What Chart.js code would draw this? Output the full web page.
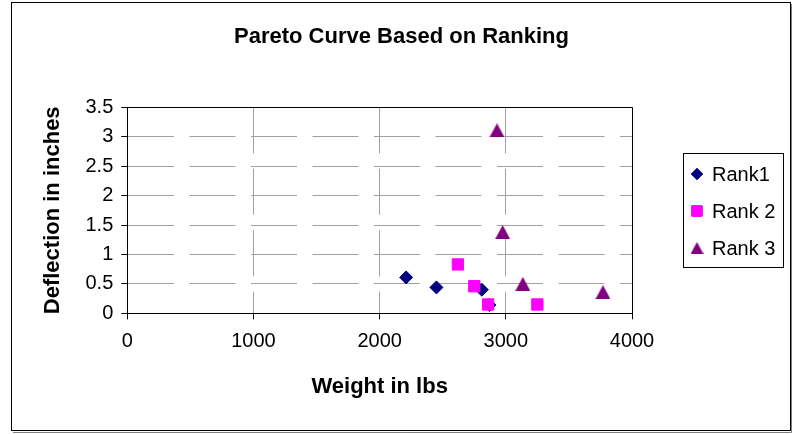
<!DOCTYPE html>
<html>
<head>
<meta charset="utf-8">
<script src="https://cdn.jsdelivr.net/npm/chart.js@4"></script>
<style>
  html, body { margin: 0; padding: 0; background: #fff; }
  canvas { display: block; }
</style>
</head>
<body>
<canvas id="chart" width="793" height="434"></canvas>
<script>
// ---- data ----
const chartTitle = 'Pareto Curve Based on Ranking';
const xTitle = 'Weight in lbs';
const yTitle = 'Deflection in inches';
const seriesNames = ['Rank1', 'Rank 2', 'Rank 3'];

const rank1Weight = [2210, 2450, 2810, 2870];
const rank1Deflection = [0.61, 0.44, 0.40, 0.14];

const rank2Weight = [2620, 2750, 2860, 3250];
const rank2Deflection = [0.83, 0.46, 0.15, 0.15];

const rank3Weight = [2930, 2975, 3135, 3770];
const rank3Deflection = [3.11, 1.38, 0.50, 0.36];

const xTickValues = [0, 1000, 2000, 3000, 4000];
const yTickValues = [0, 0.5, 1, 1.5, 2, 2.5, 3, 3.5];

// ---- markers ----
function makeTriangle(w, h, color) {
  const c = document.createElement('canvas');
  c.width = w; c.height = h;
  const g = c.getContext('2d');
  g.fillStyle = color;
  g.beginPath();
  g.moveTo(0, h);
  g.lineTo(w / 2, 0);
  g.lineTo(w, h);
  g.closePath();
  g.fill();
  return c;
}
const triangleMarker = makeTriangle(15, 14, '#800080');
const triangleLegend = makeTriangle(13, 12, '#800080');

const toPoints = (xs, ys) => xs.map((x, i) => ({ x, y: ys[i] }));

const FONT = "'Liberation Sans', Arial, Helvetica, sans-serif";
Chart.defaults.font.family = FONT;
Chart.defaults.color = '#000';

// outer frame, plot frame and legend
const framePlugin = {
  id: 'frame',
  beforeDraw(chart) {
    const ctx = chart.ctx;
    ctx.save();
    ctx.fillStyle = '#fff';
    ctx.fillRect(0, 0, chart.width, chart.height);
    ctx.restore();
  },
  afterDraw(chart) {
    const ctx = chart.ctx;
    const a = chart.chartArea;
    ctx.save();
    // chart border with shadow
    ctx.strokeStyle = '#808080';
    ctx.lineWidth = 1;
    ctx.beginPath();
    ctx.moveTo(791.5, 4); ctx.lineTo(791.5, 432.5); ctx.lineTo(13, 432.5);
    ctx.stroke();
    ctx.strokeStyle = '#000';
    ctx.strokeRect(11.5, 2.5, 779, 428);
    // plot area border
    ctx.beginPath();
    ctx.moveTo(Math.round(a.left) + 0.5, Math.round(a.top) + 0.5);
    ctx.lineTo(Math.round(a.right) + 0.5, Math.round(a.top) + 0.5);
    ctx.lineTo(Math.round(a.right) + 0.5, Math.round(a.bottom) + 0.5);
    ctx.stroke();

    // legend
    const lx = 683.5, ly = 153.5, lw = 100, lh = 114;
    ctx.strokeStyle = '#000';
    ctx.strokeRect(lx, ly, lw, lh);
    const rows = [174, 211, 248];
    ctx.font = '20px ' + FONT;
    ctx.textBaseline = 'middle';
    ctx.textAlign = 'left';
    chart.data.datasets.forEach((ds, i) => {
      const y = rows[i];
      const x = 697;
      if (ds.legendMarker) {
        const m = ds.legendMarker;
        ctx.drawImage(m, x - m.width / 2, y - m.height / 2);
      } else {
        ctx.fillStyle = ds.backgroundColor;
        ctx.strokeStyle = ds.borderColor;
        Chart.helpers.drawPoint(ctx, {
          pointStyle: ds.pointStyle,
          radius: ds.legendRadius,
          rotation: 0,
          borderWidth: 1
        }, x, y);
        ctx.fill();
        ctx.stroke();
      }
      ctx.fillStyle = '#000';
      ctx.fillText(ds.label, 712, y + 1);
    });
    ctx.restore();
  }
};

const tickFont = { size: 20 };
const titleFont = { size: 22, weight: 'bold' };

new Chart(document.getElementById('chart'), {
  type: 'scatter',
  data: {
    datasets: [
      {
        label: seriesNames[0],
        data: toPoints(rank1Weight, rank1Deflection),
        pointStyle: 'rectRot',
        pointRadius: 6.5,
        pointHoverRadius: 6.5,
        borderWidth: 1,
        backgroundColor: '#000080',
        borderColor: '#000080',
        legendRadius: 5.5,
        order: 3
      },
      {
        label: seriesNames[1],
        data: toPoints(rank2Weight, rank2Deflection),
        pointStyle: 'rect',
        pointRadius: 8,
        pointHoverRadius: 8,
        borderWidth: 1,
        backgroundColor: '#FF00FF',
        borderColor: '#FF00FF',
        legendRadius: 7.3,
        order: 2
      },
      {
        label: seriesNames[2],
        data: toPoints(rank3Weight, rank3Deflection),
        pointStyle: triangleMarker,
        legendMarker: triangleLegend,
        backgroundColor: '#800080',
        borderColor: '#800080',
        order: 1
      }
    ]
  },
  options: {
    responsive: false,
    animation: false,
    events: [],
    layout: { padding: { left: 10, right: 0, top: 0, bottom: 0 } },
    plugins: {
      legend: { display: false },
      tooltip: { enabled: false },
      title: {
        display: true,
        text: chartTitle,
        color: '#000',
        font: titleFont,
        padding: { top: 24, bottom: 56.9 }
      }
    },
    scales: {
      x: {
        type: 'linear',
        position: 'bottom',
        min: 0,
        max: 4000,
        afterBuildTicks: s => { s.ticks = xTickValues.map(v => ({ value: v })); },
        afterFit: s => { s.height = 434 - 313.3; },
        ticks: {
          font: tickFont,
          color: '#000',
          padding: 10,
          maxRotation: 0,
          callback: v => String(v)
        },
        grid: {
          color: '#a0a0a0',
          lineWidth: 1,
          drawTicks: true,
          tickLength: 6,
          tickColor: '#000',
          tickWidth: 1,
          tickBorderDash: []
        },
        border: { display: true, color: '#000', width: 1, dash: [46, 15.5] },
        title: {
          display: true,
          text: xTitle,
          color: '#000',
          font: titleFont,
          padding: { top: 0, bottom: 34 }
        }
      },
      y: {
        type: 'linear',
        position: 'left',
        min: 0,
        max: 3.5,
        afterBuildTicks: s => { s.ticks = yTickValues.map(v => ({ value: v })); },
        afterFit: s => { s.width = 117.3; },
        ticks: {
          font: tickFont,
          color: '#000',
          padding: 8,
          callback: v => String(v)
        },
        grid: {
          color: '#a0a0a0',
          lineWidth: 1,
          drawTicks: true,
          tickLength: 6,
          tickColor: '#000',
          tickWidth: 1,
          tickBorderDash: []
        },
        border: { display: true, color: '#000', width: 1, dash: [46, 15.5] },
        title: {
          display: true,
          text: yTitle,
          color: '#000',
          font: titleFont,
          padding: { top: 30, bottom: 0 }
        }
      },
      // empty band on the right that holds the legend
      legendBand: {
        type: 'linear',
        position: 'right',
        display: true,
        ticks: { display: false },
        grid: { display: false },
        border: { display: false },
        title: { display: false },
        afterFit: s => { s.width = 161; }
      }
    }
  },
  plugins: [framePlugin]
});
</script>
</body>
</html>
